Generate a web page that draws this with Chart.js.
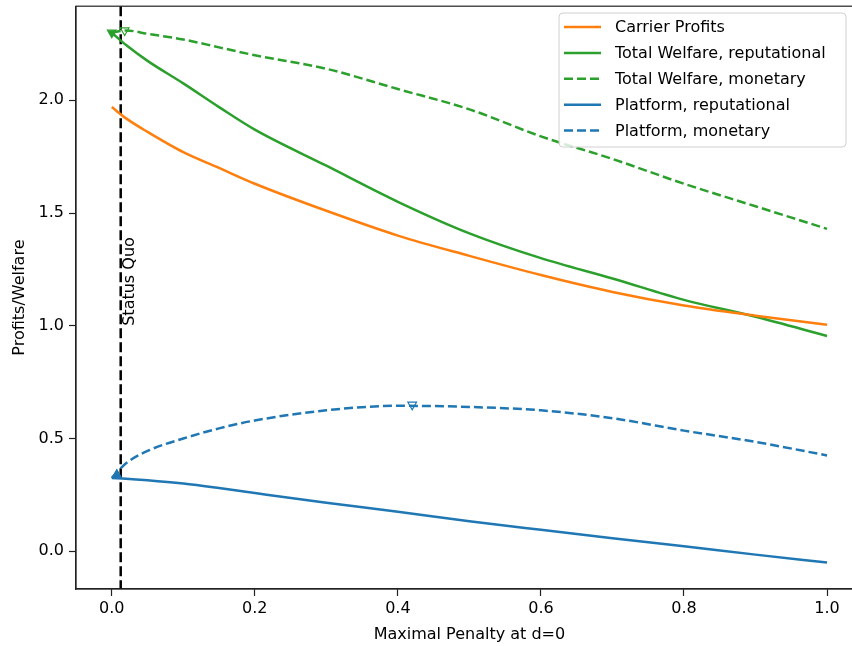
<!DOCTYPE html>
<html lang="en">
  <head>
    <title>Profits and Welfare</title>
    <style>
      html, body { margin: 0; padding: 0; overflow: hidden; background: #fff; }
      #chart { display: block; }
    </style>
  </head>
  <body>
    <canvas id="chart" width="869" height="646"></canvas>
    <script src="https://cdn.jsdelivr.net/npm/chart.js@4.4.1/dist/chart.umd.min.js"></script>
    <script>
      // values
      const penalty = [0, 0.02, 0.05, 0.1, 0.15, 0.2, 0.3, 0.4, 0.5, 0.6, 0.7, 0.8, 0.9, 1.0];
      const carrierProfits = [1.97, 1.92, 1.86, 1.77, 1.70, 1.63, 1.51, 1.40, 1.31, 1.225, 1.15, 1.09, 1.045, 1.005];
      const welfareRep = [2.30, 2.245, 2.175, 2.075, 1.97, 1.87, 1.71, 1.55, 1.41, 1.30, 1.21, 1.115, 1.04, 0.955];
      const welfareMon = [2.30, 2.31, 2.295, 2.27, 2.235, 2.20, 2.14, 2.05, 1.96, 1.84, 1.74, 1.63, 1.53, 1.43];
      const platformRep = [0.325, 0.322, 0.315, 0.30, 0.28, 0.258, 0.215, 0.175, 0.133, 0.095, 0.058, 0.022, -0.015, -0.05];
      const platformMon = [0.325, 0.39, 0.445, 0.50, 0.545, 0.58, 0.625, 0.645, 0.64, 0.625, 0.59, 0.535, 0.485, 0.425];

      // optimum markers [x, y]
      const welfareRepBest = [0, 2.30];
      const welfareMonBest = [0.018, 2.31];
      const platformRepBest = [0.007, 0.34];
      const platformMonBest = [0.42, 0.65];

      const statusQuo = 0.0125;
      const xTicks = [0, 0.2, 0.4, 0.6, 0.8, 1.0];
      const yTicks = [0, 0.5, 1.0, 1.5, 2.0];

      const BLUE = '#1f77b4', ORANGE = '#ff7f0e', GREEN = '#2ca02c';
      const FONT = "'DejaVu Sans', sans-serif";

      const pts = ys => penalty.map((x, i) => ({x: x, y: ys[i]}));

      function line(label, ys, color, dashed) {
        return {
          label: label,
          data: pts(ys),
          borderColor: color,
          backgroundColor: color,
          borderWidth: 2.5,
          borderDash: dashed ? [9, 4] : [],
          pointRadius: 0,
          cubicInterpolationMode: 'monotone',
          fill: false
        };
      }

      function marker(p, color, hollow, rot) {
        return {
          label: '',
          data: [{x: p[0], y: p[1]}],
          showLine: false,
          pointStyle: 'triangle',
          pointRotation: rot,
          pointRadius: 5,
          borderWidth: 1.2,
          borderColor: color,
          backgroundColor: hollow ? 'rgba(255,255,255,0)' : color,
          isMarker: true
        };
      }

      const frame = {
        id: 'frame',
        beforeDatasetsDraw(chart) {
          const {ctx, chartArea: a, scales} = chart;
          // status quo line
          const x = scales.x.getPixelForValue(statusQuo);
          ctx.save();
          ctx.strokeStyle = '#000';
          ctx.lineWidth = 2.5;
          ctx.setLineDash([10, 4]);
          ctx.beginPath();
          ctx.moveTo(x, a.top);
          ctx.lineTo(x, a.bottom);
          ctx.stroke();
          ctx.restore();
        },
        afterDraw(chart) {
          const {ctx, chartArea: a, scales} = chart;
          ctx.save();
          // spines
          ctx.strokeStyle = '#222';
          ctx.lineWidth = 1.2;
          ctx.strokeRect(a.left, a.top, a.right - a.left, a.bottom - a.top);
          // status quo label
          const x = scales.x.getPixelForValue(statusQuo);
          const y = scales.y.getPixelForValue(1.0);
          ctx.translate(x + 1, y);
          ctx.rotate(-Math.PI / 2);
          ctx.fillStyle = '#000';
          ctx.font = '16px ' + FONT;
          ctx.textAlign = 'left';
          ctx.textBaseline = 'top';
          ctx.fillText('Status Quo', 0, 0);
          ctx.restore();

          // legend box
          const items = chart.data.datasets.filter(d => !d.isMarker);
          const bx = 559, by = 13, bw = 287, bh = 134;
          ctx.save();
          ctx.fillStyle = 'rgba(255,255,255,0.8)';
          ctx.strokeStyle = '#d0d0d0';
          ctx.lineWidth = 1;
          ctx.beginPath();
          ctx.roundRect(bx, by, bw, bh, 4);
          ctx.fill();
          ctx.stroke();
          ctx.font = '16px ' + FONT;
          ctx.textBaseline = 'middle';
          items.forEach((d, i) => {
            const ry = 27 + i * 25.9;
            ctx.strokeStyle = d.borderColor;
            ctx.lineWidth = 2.5;
            ctx.setLineDash(d.borderDash);
            ctx.beginPath();
            ctx.moveTo(564, ry);
            ctx.lineTo(601, ry);
            ctx.stroke();
            ctx.setLineDash([]);
            ctx.fillStyle = '#000';
            ctx.fillText(d.label, 615, ry + 1);
          });
          ctx.restore();
        }
      };

      new Chart(document.getElementById('chart').getContext('2d'), {
        type: 'line',
        data: {
          datasets: [
            line('Carrier Profits', carrierProfits, ORANGE, false),
            line('Total Welfare, reputational', welfareRep, GREEN, false),
            line('Total Welfare, monetary', welfareMon, GREEN, true),
            line('Platform, reputational', platformRep, BLUE, false),
            line('Platform, monetary', platformMon, BLUE, true),
            marker(welfareRepBest, GREEN, false, 180),
            marker(welfareMonBest, GREEN, true, 180),
            marker(platformRepBest, BLUE, false, 0),
            marker(platformMonBest, BLUE, true, 180)
          ]
        },
        options: {
          responsive: false,
          animation: false,
          layout: { padding: { top: 2, right: 2, left: 0, bottom: 0 } },
          plugins: { legend: { display: false }, tooltip: { enabled: false } },
          scales: {
            x: {
              type: 'linear',
              min: -0.05,
              max: 1.05,
              afterBuildTicks: s => { s.ticks = xTicks.map(v => ({value: v})); },
              afterFit: s => { s.height = 57; s.paddingLeft = 0; s.paddingRight = 0; },
              grid: { drawOnChartArea: false, tickLength: 7, tickColor: '#222', tickWidth: 1.2 },
              border: { display: true, color: '#222', width: 1.2 },
              ticks: { color: '#000', font: { family: FONT, size: 16 }, padding: 3, maxRotation: 0,
                       callback: v => v.toFixed(1) },
              title: { display: true, text: 'Maximal Penalty at d=0', color: '#000',
                       font: { family: FONT, size: 16 }, padding: { top: 0, bottom: 2 } }
            },
            y: {
              min: -0.1675,
              max: 2.4175,
              afterBuildTicks: s => { s.ticks = yTicks.map(v => ({value: v})); },
              afterFit: s => { s.width = 76; s.paddingTop = 0; s.paddingBottom = 0; },
              grid: { drawOnChartArea: false, tickLength: 7, tickColor: '#222', tickWidth: 1.2 },
              border: { display: true, color: '#222', width: 1.2 },
              ticks: { color: '#000', font: { family: FONT, size: 16 }, padding: 5,
                       callback: v => v.toFixed(1) },
              title: { display: true, text: 'Profits/Welfare', color: '#000',
                       font: { family: FONT, size: 16 }, padding: { top: 10, bottom: 0 } }
            }
          }
        },
        plugins: [frame]
      });
    </script>
  </body>
</html>
